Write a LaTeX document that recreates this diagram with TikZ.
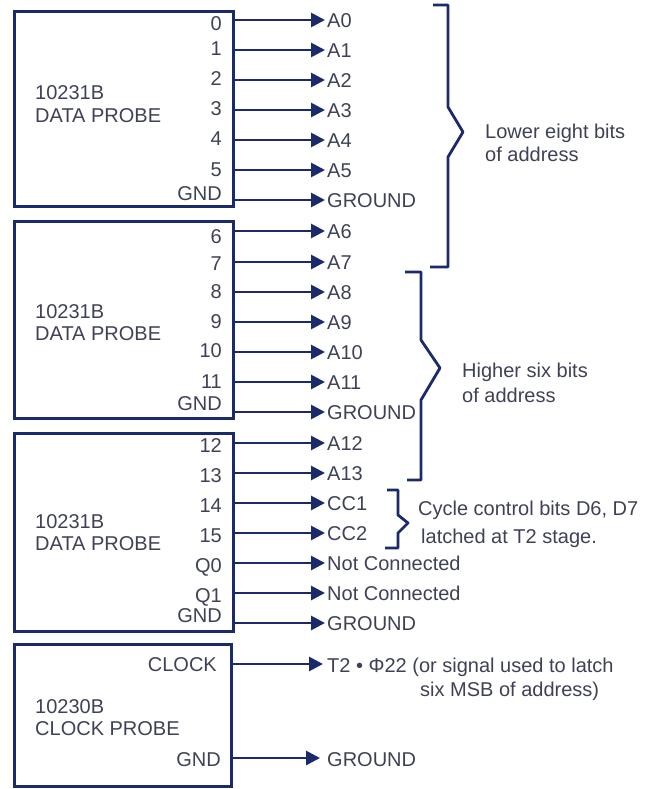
\documentclass[tikz,border=0pt]{standalone}
\usepackage{fontspec}
\setmainfont{Liberation Sans}
\usetikzlibrary{arrows.meta}
\definecolor{ink}{HTML}{1B2A6B}
\definecolor{txt}{HTML}{3F4256}
\begin{document}
\begin{tikzpicture}[x=1pt,y=-1pt,
  probe/.style={draw=ink, line width=3.4pt, inner sep=0pt, anchor=north west},
  lab/.style={text=txt, font=\fontsize{20}{23}\selectfont, inner sep=0pt},
  pin/.style={lab, anchor=base east},
  sig/.style={lab, anchor=base west},
  ttl/.style={lab, anchor=base west, align=left, font=\fontsize{20}{22}\selectfont},
  note/.style={lab, anchor=base west, align=left},
  arr/.style={draw=ink, line width=2.8pt, shorten >=2pt, -{Triangle[length=14pt,width=14pt]}},
  brk/.style={draw=ink, line width=2.8pt, line join=round}]
\useasboundingbox (0,0) rectangle (661,789);
\fill[white] (0,0) rectangle (661,789);

% probe boxes
\node[probe, minimum width=219pt, minimum height=195pt] (b1) at (13,10) {};
\node[probe, minimum width=219pt, minimum height=197pt] (b2) at (13,220) {};
\node[probe, minimum width=219pt, minimum height=198pt] (b3) at (13,432) {};
\node[probe, minimum width=217pt, minimum height=142pt] (b4) at (13,643) {};

\node[ttl] (t1) at (35,122) {10231B\\DATA PROBE};
\node[ttl] (t2) at (35,340) {10231B\\DATA PROBE};
\node[ttl] (t3) at (35,550) {10231B\\DATA PROBE};
\node[ttl] (t4) at (35,735) {10230B\\CLOCK PROBE};

% data probe pins and signals
\foreach \n/\y/\p/\s/\dy in {a0/20/0/A0/11, a1/50/1/A1/6, a2/80/2/A2/6, a3/110/3/A3/6, a4/140/4/A4/6, a5/170/5/A5/6, g1/200/GND/GROUND/0,
  a6/231/6/A6/12, a7/262/7/A7/8, a8/292/8/A8/6, a9/322/9/A9/6, a10/352/10/A10/5, a11/382/11/A11/6, g2/412/GND/GROUND/-2,
  a12/443/12/A12/9, a13/473/13/A13/9, c1/503/14/CC1/9, c2/533/15/CC2/9, q0/563/Q0/Not Connected/9, q1/593/Q1/Not Connected/9, g3/623/GND/GROUND/-1}{
  \coordinate (p\n) at (232,\y);
  \node[pin] (n\n) at (222,\y+\dy) {\p};
  \node[sig] (s\n) at (327,\y+7.5) {\s};
  \draw[arr] (p\n) -- (s\n.west |- p\n);
}

% clock probe
\coordinate (pclk) at (230,664);
\node[pin] (nclk) at (217,671) {CLOCK};
\node[sig] (sclk) at (327,672) {T2 \textbullet\ Φ22 (or signal used to latch};
\node[sig] (sclk2) at (420,696) {six MSB of address)};
\draw[arr, shorten >=4pt] (pclk) -- (sclk.west |- pclk);

\coordinate (pg4) at (230,758);
\node[pin] (ng4) at (221,766) {GND};
\node[sig] (sg4) at (327,766) {GROUND};
\draw[arr, shorten >=7pt] (pg4) -- (sg4.west |- pg4);

% brackets
\draw[brk] (433,5) -- (448,5) -- (448,107) -- (463,132) -- (448,157) -- (448,267) -- (430,267);
\node[note] (lo) at (485,161) {Lower eight bits\\of address};

\draw[brk] (405,272) -- (421,272) -- (421,340) -- (440,368) -- (421,400) -- (421,480) -- (407,480);
\node[note, font=\fontsize{20}{25}\selectfont] (hi) at (462,402) {Higher six bits\\of address};

\draw[brk] (387,490) -- (398,490) -- (398,515) -- (408,523) -- (398,533) -- (398,548) -- (385,548);
\node[note, font=\fontsize{20}{28}\selectfont] (cc) at (418,543) {Cycle control bits D6, D7\\\hspace{3pt}latched at T2 stage.};
\end{tikzpicture}
\end{document}
